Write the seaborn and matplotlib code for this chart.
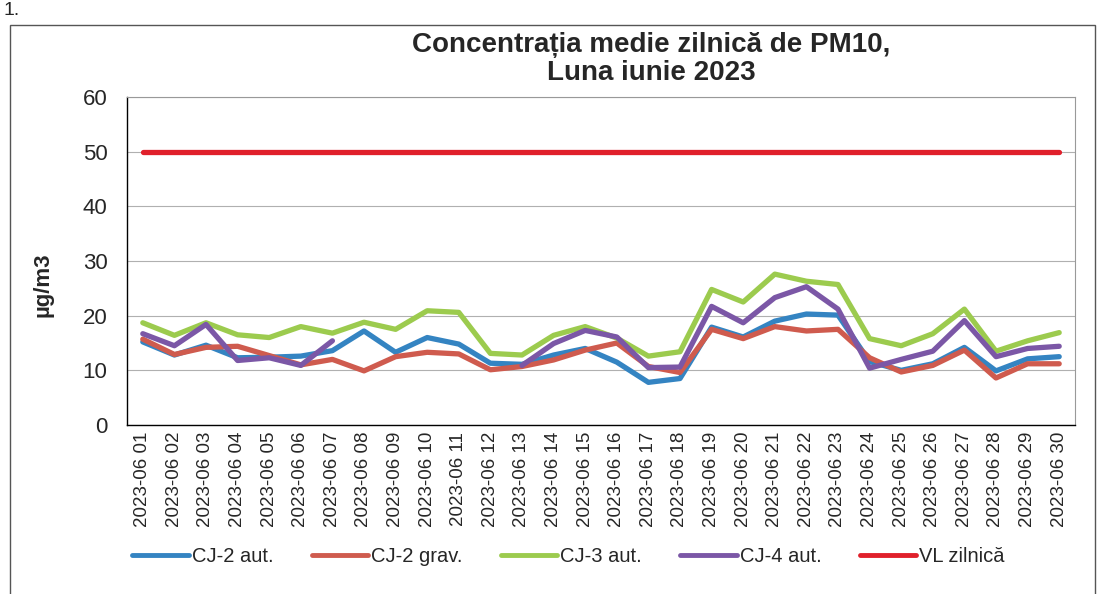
import numpy as np
import pandas as pd
import seaborn as sns
import matplotlib.pyplot as plt
from matplotlib.lines import Line2D
from matplotlib.patches import Rectangle

# Data
days = [f"2023-06 {d:02d}" for d in range(1, 31)]

cj2_aut = [15.2, 12.8, 14.6, 12.3, 12.4, 12.6, 13.6, 17.2, 13.3, 16.0,
           14.8, 11.3, 11.1, 12.8, 14.0, 11.5, 7.8, 8.5, 17.9, 16.1,
           19.0, 20.3, 20.1, 11.6, 10.0, 11.2, 14.2, 9.9, 12.1, 12.5]
cj2_grav = [15.7, 12.9, 14.2, 14.4, 12.7, 11.0, 12.0, 9.9, 12.5, 13.3,
            13.0, 10.1, 10.7, 11.9, 13.7, 15.0, 10.7, 9.6, 17.5, 15.8,
            18.0, 17.2, 17.5, 12.3, 9.7, 10.9, 13.7, 8.6, 11.2, 11.2]
cj3_aut = [18.7, 16.4, 18.7, 16.5, 16.0, 18.0, 16.8, 18.8, 17.5, 20.9,
           20.6, 13.1, 12.8, 16.4, 18.0, 15.9, 12.6, 13.4, 24.8, 22.5,
           27.6, 26.3, 25.7, 15.8, 14.5, 16.7, 21.2, 13.5, 15.4, 16.9]
cj4_aut = [16.7, 14.5, 18.4, 11.8, 12.3, 10.9, 15.4, np.nan, np.nan, np.nan,
           np.nan, np.nan, 10.9, 14.9, 17.3, 16.1, 10.5, 10.6, 21.7, 18.7,
           23.3, 25.3, 21.2, 10.4, 12.0, 13.5, 19.1, 12.5, 14.0, 14.4]
vl_zilnica = [50] * 30

series_names = ["CJ-2 aut.", "CJ-2 grav.", "CJ-3 aut.", "CJ-4 aut.", "VL zilnică"]
series_values = [cj2_aut, cj2_grav, cj3_aut, cj4_aut, vl_zilnica]
colors = ["#3484c2", "#cf5b4e", "#9ccb4e", "#7b57a6", "#e0202b"]

sns.set_style("white")
plt.rcParams["font.family"] = ["Liberation Sans", "DejaVu Sans"]

fig = plt.figure(figsize=(11.04, 5.94), dpi=100)
ax = fig.add_axes([127 / 1104, 1 - 425 / 594, 948 / 1104, 328 / 594])

pos = np.arange(len(days))
for name, vals, col in zip(series_names, series_values, colors):
    df = pd.DataFrame({"pos": pos, "value": vals})
    # split into contiguous runs so missing days leave a gap
    df["seg"] = df["value"].isna().cumsum()
    df = df.dropna()
    for _, part in df.groupby("seg"):
        sns.lineplot(data=part, x="pos", y="value", color=col, lw=3.8,
                     ax=ax, legend=False, estimator=None, sort=False)

ax.set_xlim(-0.5, len(days) - 0.5)
ax.set_ylim(0, 60)
ax.set_yticks(range(0, 61, 10))
ax.set_xticks(pos)
ax.set_xticklabels(days, rotation=90, fontsize=13.5)
ax.set_xticks(np.arange(-0.5, len(days), 1), minor=True)
ax.tick_params(axis="x", which="major", length=0, pad=5)
ax.tick_params(axis="x", which="minor", length=6, direction="out", color="black")
ax.tick_params(axis="y", length=6, width=1, direction="out", labelsize=16,
               pad=8, color="black")
ax.yaxis.grid(True, color="#b0b0b0", lw=0.8)
ax.set_axisbelow(True)
ax.set_xlabel("")
ax.set_ylabel("µg/m3", fontsize=16, fontweight="bold")
ax.yaxis.set_label_coords(-0.078, 0.427)

for s in ["left", "bottom"]:
    ax.spines[s].set_color("black")
    ax.spines[s].set_linewidth(1.0)
for s in ["top", "right"]:
    ax.spines[s].set_color("#999999")
    ax.spines[s].set_linewidth(0.8)

fig.text(0.59, 1 - 59 / 594, "Concentrația medie zilnică de PM10,\nLuna iunie 2023",
         ha="center", va="center", fontsize=20, fontweight="bold",
         linespacing=1.15)

handles = [Line2D([0], [0], color=c, lw=3.5) for c in colors]
fig.legend(handles, series_names, loc="center", bbox_to_anchor=(0.515, 1 - 557 / 594),
           ncol=5, frameon=False, handlelength=2.8, handletextpad=0.15,
           columnspacing=1.9, prop={"size": 14.5})

# outer chart frame and page marker from the scan
fig.add_artist(Rectangle((10 / 1104, -0.02), 1085 / 1104, 1 - 25 / 594 + 0.02,
                         transform=fig.transFigure, fill=False, ec="#555555", lw=1))
fig.text(0.003, 0.997, "1.", fontsize=14, va="top", ha="left")

fig.savefig("out.png", dpi=100)
